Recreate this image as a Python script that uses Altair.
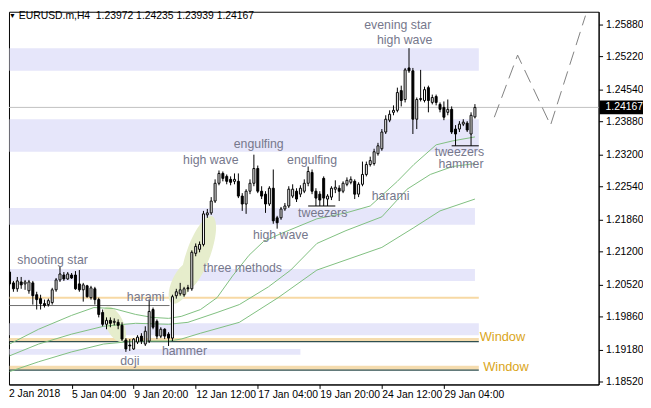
import altair as alt
import pandas as pd

# ---------------- data ----------------
# EURUSD.m H4 candles, bar 0 = 2 Jan 2018 12:00
opens = [
    1.20775, 1.20552, 1.20430, 1.20572, 1.20531, 1.20389, 1.20552, 1.20308, 1.20227, 1.20125,
    1.20105, 1.20146, 1.20409, 1.20613, 1.20714, 1.20633, 1.20714, 1.20714, 1.20531, 1.20409,
    1.20491, 1.20247, 1.20430, 1.20207, 1.19942, 1.19699, 1.19780, 1.19739, 1.19739, 1.19678,
    1.19374, 1.19272, 1.19191, 1.19333, 1.19455, 1.19292, 1.19353, 1.20003, 1.19760, 1.19455,
    1.19597, 1.19496, 1.19414, 1.20288, 1.20328, 1.20308, 1.20450, 1.20430, 1.21161, 1.21243,
    1.21344, 1.21953, 1.21994, 1.22238, 1.22604, 1.22807, 1.22746, 1.22685, 1.22644, 1.22644,
    1.22340, 1.22177, 1.22441, 1.22604, 1.22908, 1.22441, 1.22380, 1.22177, 1.22502, 1.21892,
    1.21892, 1.22075, 1.22136, 1.22340, 1.22441, 1.22380, 1.22441, 1.22604, 1.22827, 1.22441,
    1.22380, 1.22705, 1.22279, 1.22319, 1.22482, 1.22502, 1.22441, 1.22583, 1.22624, 1.22644,
    1.22380, 1.22583, 1.22786, 1.22990, 1.23010, 1.23213, 1.23315, 1.23660, 1.23904, 1.24066,
    1.24107, 1.24513, 1.24330, 1.24980, 1.24920, 1.23924, 1.24330, 1.24310, 1.24574, 1.24270,
    1.24391, 1.24229, 1.24168, 1.24066, 1.24127, 1.23721, 1.23721, 1.23823, 1.23843, 1.23619,
    1.23972,
]
highs = [
    1.20836, 1.20592, 1.20674, 1.20674, 1.20613, 1.20613, 1.20592, 1.20369, 1.20308, 1.20207,
    1.20227, 1.20450, 1.20653, 1.20897, 1.20775, 1.20775, 1.20755, 1.20795, 1.20816, 1.20552,
    1.20511, 1.20491, 1.20470, 1.20247, 1.20003, 1.19841, 1.19841, 1.19821, 1.19800, 1.19739,
    1.19414, 1.19394, 1.19414, 1.19475, 1.19515, 1.19658, 1.20207, 1.20044, 1.19800, 1.19638,
    1.19617, 1.19536, 1.20308, 1.20430, 1.20552, 1.20470, 1.20511, 1.21222, 1.21364, 1.21405,
    1.22035, 1.22075, 1.22319, 1.22685, 1.22868, 1.22847, 1.22786, 1.22746, 1.22807, 1.22807,
    1.22401, 1.22482, 1.22685, 1.23193, 1.22969, 1.22543, 1.22441, 1.22543, 1.22888, 1.21933,
    1.22116, 1.22198, 1.22543, 1.22583, 1.22502, 1.22563, 1.22685, 1.22949, 1.22888, 1.22502,
    1.22441, 1.22746, 1.22380, 1.22543, 1.22665, 1.22563, 1.22644, 1.22725, 1.22746, 1.22685,
    1.22624, 1.23051, 1.23051, 1.23152, 1.23315, 1.23437, 1.23721, 1.24005, 1.24107, 1.24209,
    1.24574, 1.24615, 1.24980, 1.25387, 1.24980, 1.24371, 1.24940, 1.24594, 1.24615, 1.24431,
    1.24431, 1.24270, 1.24290, 1.24330, 1.24188, 1.23802, 1.23884, 1.23924, 1.23884, 1.24066,
    1.24235,
]
lows = [
    1.20491, 1.20369, 1.20369, 1.20430, 1.20409, 1.20328, 1.20105, 1.20003, 1.20003, 1.20044,
    1.20064, 1.20105, 1.20369, 1.20572, 1.20592, 1.20613, 1.20633, 1.20409, 1.20369, 1.20166,
    1.20247, 1.20207, 1.20105, 1.19841, 1.19658, 1.19597, 1.19638, 1.19678, 1.19597, 1.19353,
    1.19130, 1.19150, 1.19170, 1.19292, 1.19292, 1.19252, 1.19313, 1.19597, 1.19394, 1.19414,
    1.19394, 1.19252, 1.19353, 1.20227, 1.20288, 1.20267, 1.20369, 1.20389, 1.21100, 1.21182,
    1.21304, 1.21892, 1.21953, 1.22198, 1.22563, 1.22644, 1.22583, 1.22563, 1.22583, 1.22299,
    1.22035, 1.21974, 1.22380, 1.22543, 1.22401, 1.22279, 1.21994, 1.22136, 1.21770, 1.21669,
    1.21851, 1.22035, 1.22096, 1.22299, 1.22218, 1.22319, 1.22401, 1.22543, 1.22380, 1.22136,
    1.22136, 1.22136, 1.22136, 1.22258, 1.22401, 1.22238, 1.22401, 1.22543, 1.22583, 1.22279,
    1.22319, 1.22543, 1.22746, 1.22949, 1.22969, 1.23173, 1.23274, 1.23619, 1.23863, 1.24005,
    1.24066, 1.24188, 1.24270, 1.24879, 1.23619, 1.23721, 1.24290, 1.24270, 1.24066, 1.24229,
    1.24209, 1.24066, 1.23904, 1.24005, 1.23619, 1.23376, 1.23660, 1.23782, 1.23660, 1.23376,
    1.23939,
]
closes = [
    1.20531, 1.20430, 1.20592, 1.20511, 1.20572, 1.20572, 1.20288, 1.20207, 1.20125, 1.20085,
    1.20186, 1.20409, 1.20613, 1.20735, 1.20633, 1.20735, 1.20653, 1.20430, 1.20409, 1.20511,
    1.20267, 1.20450, 1.20207, 1.19902, 1.19699, 1.19780, 1.19719, 1.19760, 1.19678, 1.19394,
    1.19191, 1.19252, 1.19394, 1.19434, 1.19353, 1.19556, 1.19963, 1.19638, 1.19455, 1.19597,
    1.19455, 1.19414, 1.20267, 1.20369, 1.20409, 1.20430, 1.20430, 1.21182, 1.21304, 1.21344,
    1.21974, 1.21994, 1.22238, 1.22604, 1.22807, 1.22705, 1.22644, 1.22624, 1.22685, 1.22340,
    1.22177, 1.22441, 1.22604, 1.22908, 1.22441, 1.22340, 1.22177, 1.22502, 1.21831, 1.21791,
    1.22075, 1.22136, 1.22482, 1.22482, 1.22279, 1.22502, 1.22604, 1.22847, 1.22441, 1.22299,
    1.22258, 1.22299, 1.22340, 1.22502, 1.22522, 1.22441, 1.22604, 1.22665, 1.22685, 1.22380,
    1.22583, 1.22786, 1.22990, 1.23071, 1.23254, 1.23376, 1.23660, 1.23924, 1.24026, 1.24107,
    1.24473, 1.24310, 1.24940, 1.24920, 1.23924, 1.24330, 1.24351, 1.24533, 1.24310, 1.24371,
    1.24270, 1.24127, 1.23965, 1.24127, 1.23660, 1.23619, 1.23823, 1.23863, 1.23701, 1.24005,
    1.24167,
]

# axis ticks
tick_bars = [16, 32, 48, 64, 80, 96, 112]
tick_labels = ["5 Jan 04:00", "9 Jan 20:00", "12 Jan 12:00", "17 Jan 04:00",
               "19 Jan 20:00", "24 Jan 12:00", "29 Jan 04:00"]
first_label = "2 Jan 2018"
price_ticks = [1.18520, 1.19180, 1.19860, 1.20520, 1.21200, 1.21860,
               1.22540, 1.23200, 1.23880, 1.24540, 1.25220, 1.25880]

# three moving averages (bar, value)
ma1_bar = [0, 7.5, 16, 21.75, 26.75, 32.5, 36.75, 41, 44.25, 49.25, 53.5, 57.5, 61.75, 65.5,
           70, 79.25, 86.75, 93, 100, 104.25, 110, 114.25, 120]
ma1_val = [1.19292, 1.19597, 1.19882, 1.20044, 1.20024, 1.19902, 1.19841, 1.19821, 1.19861,
           1.20003, 1.20247, 1.20694, 1.21121, 1.21405, 1.21568, 1.21872, 1.21994, 1.22136,
           1.22644, 1.22990, 1.23396, 1.23477, 1.23559]
ma2_bar = [0, 7.5, 16, 24.25, 32.5, 41, 46, 53.5, 59.25, 66.75, 72.5, 79.25, 86.75, 96,
           102.5, 108.5, 114.25, 120]
ma2_val = [1.19049, 1.19292, 1.19496, 1.19658, 1.19719, 1.19699, 1.19739, 1.19942, 1.20105,
           1.20470, 1.20816, 1.21364, 1.21629, 1.21913, 1.22482, 1.22786, 1.22949, 1.23010]
ma3_bar = [0, 7.5, 16, 24.25, 32.5, 41, 44.25, 49.25, 59.25, 69.25, 79.25, 96, 104.25, 111, 120]
ma3_val = [1.18724, 1.18927, 1.19130, 1.19292, 1.19353, 1.19353, 1.19394, 1.19515, 1.19739,
           1.20247, 1.20816, 1.21283, 1.21690, 1.22035, 1.22279]

# lavender supply/demand zones
zone_start = [0, 0, 0, 0, 0, 0]
zone_end = [121, 121, 120, 120, 121, 75]
zone_lo = [1.24920, 1.23254, 1.21750, 1.20592, 1.19475, 1.19069]
zone_hi = [1.25387, 1.23924, 1.22096, 1.20836, 1.19719, 1.19191]

# "Window" gaps (wheat bands) and their dark lines
window_lo = [1.19353, 1.18764]
window_hi = [1.19414, 1.18845]
window_line = [1.19343, 1.18754]
window_end = 121
thin_level = 1.20247           # thin orange level
gray_level = 1.20085           # dark grey level
gray_end = 41.25
tweezer_start = [77, 114]
tweezer_end = [84, 121]
tweezer_val = [1.22136, 1.23376]

# highlighted "three methods" areas (centre bar, centre price)
ell_bar = [27.1, 44.4, 48.75]
ell_val = [1.19699, 1.20552, 1.21161]

# dashed projection
proj_bar = [125, 131, 139.5, 148.5]
proj_val = [1.23965, 1.25245, 1.23802, 1.26057]

# pattern labels
lab_text = ["evening star", "high wave", "engulfing", "high wave", "engulfing", "tweezers",
            "high wave", "harami", "tweezers", "hammer", "shooting star", "three methods",
            "harami", "hammer", "doji"]
lab_bar = [100.1, 101.9, 64.25, 51.9, 78, 80.75, 69.9, 98.25, 116, 116.4, 11.1, 60.1,
           35.1, 45.1, 31]
lab_val = [1.25854, 1.25560, 1.23416, 1.23091, 1.23091, 1.21994, 1.21547, 1.22340, 1.23253,
           1.22990, 1.21019, 1.20857, 1.20267, 1.19150, 1.18947]
win_text = ["Window", "Window"]
win_bar = [127.1, 128]
win_val = [1.19435, 1.18825]

title_text = "EURUSD.m,H4\u00a0\u00a01.23972 1.24235 1.23939 1.24167"
last_price = closes[-1]

# ---------------- chart ----------------
W, H = 598, 378
XS = alt.Scale(domain=[1.125, 150.625], nice=False, zero=False)
YS = alt.Scale(domain=[1.184591, 1.261379], nice=False, zero=False)
AXF = "Liberation Sans Narrow, Liberation Sans, Arial"
TXF = "Liberation Sans, Arial"
LBL = "#76788c"

expr = "''"
for b, t in reversed(list(zip(tick_bars, tick_labels))):
    expr = f"datum.value == {b} ? '{t}' : ({expr})"

x_axis = alt.Axis(values=tick_bars, labelExpr=expr, labelAlign="left", labelBaseline="top",
                  tickSize=4, labelPadding=1, labelFont=AXF, labelFontSize=10.5,
                  labelColor="black", tickColor="black", domainColor="black", grid=False,
                  labelFlush=False, labelOverlap=False, title=None)
y_axis = alt.Axis(values=price_ticks, format=".5f", orient="right", tickSize=4, labelPadding=3,
                  labelFont=AXF, labelFontSize=10.5, labelColor="black", tickColor="black",
                  domainColor="black", grid=False, labelFlush=False, labelOverlap=False,
                  title=None)


def X(f):
    return alt.X(f, type="quantitative", scale=XS, axis=x_axis)


def Y(f):
    return alt.Y(f, type="quantitative", scale=YS, axis=y_axis)


candles = pd.DataFrame({"bar": list(range(len(opens))), "open": opens, "high": highs,
                        "low": lows, "close": closes})
zones = pd.DataFrame({"x1": zone_start, "x2": zone_end, "lo": zone_lo, "hi": zone_hi})
windows = pd.DataFrame({"x1": [0, 0], "x2": [window_end] * 2, "lo": window_lo, "hi": window_hi,
                        "line": window_line})
mas = pd.concat([
    pd.DataFrame({"bar": ma1_bar, "val": ma1_val, "s": "ma1"}),
    pd.DataFrame({"bar": ma2_bar, "val": ma2_val, "s": "ma2"}),
    pd.DataFrame({"bar": ma3_bar, "val": ma3_val, "s": "ma3"}),
])
tweez = pd.DataFrame({"x1": tweezer_start, "x2": tweezer_end, "val": tweezer_val})
proj = pd.DataFrame({"bar": proj_bar, "val": proj_val, "o": list(range(len(proj_bar)))})
labels = pd.DataFrame({"text": lab_text, "bar": lab_bar, "val": lab_val})
wlabels = pd.DataFrame({"text": win_text, "bar": win_bar, "val": win_val})

layers = []
layers.append(alt.Chart(zones).mark_rect(color="#e6e6fa", clip=True).encode(
    x=X("x1"), x2="x2", y=Y("lo"), y2="hi"))
layers.append(alt.Chart(windows).mark_rect(color="#f5dcae", clip=True).encode(
    x=X("x1"), x2="x2", y=Y("lo"), y2="hi"))
layers.append(alt.Chart(pd.DataFrame({"x1": [0], "x2": [window_end], "v": [thin_level]}))
              .mark_rule(color="#f7d9a4", strokeWidth=2, clip=True).encode(
    x=X("x1"), x2="x2", y=Y("v")))
layers.append(alt.Chart(windows).mark_rule(color="#2f4f4f", strokeWidth=1.2, clip=True).encode(
    x=X("x1"), x2="x2", y=Y("line")))
layers.append(alt.Chart(pd.DataFrame({"x1": [0], "x2": [gray_end], "v": [gray_level]}))
              .mark_rule(color="#6e6e6e", strokeWidth=1, clip=True).encode(
    x=X("x1"), x2="x2", y=Y("v")))


def ellipse_path(r):
    k = 0.5523
    return (f"M1,0 C1,{k*r:.3f} {k:.3f},{r:.3f} 0,{r:.3f} C{-k:.3f},{r:.3f} -1,{k*r:.3f} -1,0 "
            f"C-1,{-k*r:.3f} {-k:.3f},{-r:.3f} 0,{-r:.3f} C{k:.3f},{-r:.3f} 1,{-k*r:.3f} 1,0 Z")


ell_style = [(19.5, 9.0, 65), (23.0, 10.0, 295), (40.0, 12.0, 290)]
for (b, v), (a, bb, ang) in zip(zip(ell_bar, ell_val), ell_style):
    layers.append(alt.Chart(pd.DataFrame({"bar": [b], "val": [v]})).mark_point(
        shape=ellipse_path(bb / a), size=4 * a * a, angle=ang, filled=True,
        color="#e6edcc", opacity=1, strokeWidth=0, clip=True).encode(x=X("bar"), y=Y("val")))

layers.append(alt.Chart(mas).mark_line(color="#7fbf7f", strokeWidth=1, clip=True).encode(
    x=X("bar"), y=Y("val"), detail="s:N"))
layers.append(alt.Chart(pd.DataFrame({"v": [last_price]})).mark_rule(
    color="#c0c0c0", strokeWidth=1).encode(y=Y("v")))
layers.append(alt.Chart(candles).mark_rule(color="black", strokeWidth=1, clip=True).encode(
    x=X("bar"), y=Y("low"), y2="high"))
layers.append(alt.Chart(candles).mark_bar(width=2, stroke="black", strokeWidth=1, clip=True).encode(
    x=X("bar"), y=Y("open"), y2="close",
    fill=alt.condition("datum.close >= datum.open", alt.value("white"), alt.value("black"))))
layers.append(alt.Chart(tweez).mark_rule(color="black", strokeWidth=1, clip=True).encode(
    x=X("x1"), x2="x2", y=Y("val")))
layers.append(alt.Chart(proj).mark_line(color="#808080", strokeWidth=1, strokeDash=[14, 7],
                                        clip=True).encode(
    x=X("bar"), y=Y("val"), order="o:Q"))
layers.append(alt.Chart(labels).mark_text(font=TXF, fontSize=12.5, color=LBL, align="center",
                                          baseline="middle").encode(
    x=X("bar"), y=Y("val"), text="text:N"))
layers.append(alt.Chart(wlabels).mark_text(font=TXF, fontSize=13, color="#daa520", align="center",
                                           baseline="middle").encode(
    x=X("bar"), y=Y("val"), text="text:N"))
# header
layers.append(alt.Chart(pd.DataFrame({"t": ["\u25bc"]})).mark_text(
    fontSize=7, color="black", align="left", baseline="middle").encode(
    x=alt.value(0), y=alt.value(4), text="t:N"))
layers.append(alt.Chart(pd.DataFrame({"t": [title_text]})).mark_text(
    font=AXF, fontSize=10.5, color="black", align="left", baseline="middle").encode(
    x=alt.value(10), y=alt.value(4), text="t:N"))
# first date label
layers.append(alt.Chart(pd.DataFrame({"t": [first_label]})).mark_text(
    font=AXF, fontSize=10.5, color="black", align="left", baseline="top").encode(
    x=alt.value(0), y=alt.value(H + 5), text="t:N"))
# current price tag
layers.append(alt.Chart(pd.DataFrame({"v": [last_price]})).mark_point(
    shape="M-1,-0.32 L1,-0.32 L1,0.32 L-1,0.32 Z", size=1936, filled=True, color="black",
    opacity=1, strokeWidth=0).encode(x=alt.value(621), y=Y("v")))
layers.append(alt.Chart(pd.DataFrame({"v": [last_price]})).mark_text(
    font=AXF, fontSize=10.5, color="white", align="left", baseline="middle").encode(
    x=alt.value(605), y=Y("v"), text=alt.Text("v:Q", format=".5f")))

chart = alt.layer(*layers).properties(
    width=W, height=H, padding=0, background="white"
).configure_view(stroke="black", strokeWidth=1)

chart.save("out.html", embed_options={"renderer": "svg", "actions": False})
